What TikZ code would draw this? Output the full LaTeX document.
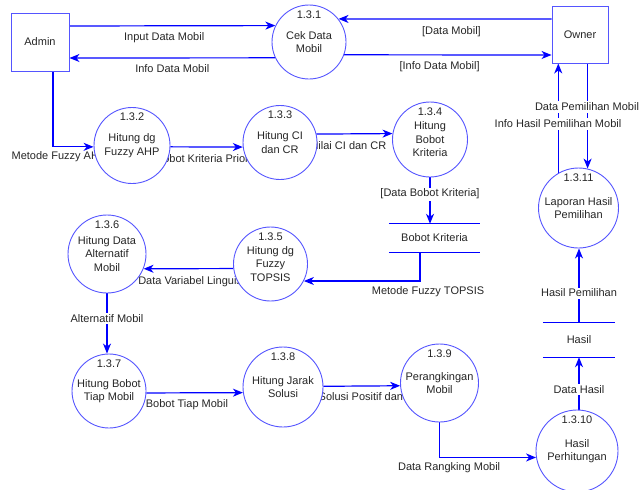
\documentclass[tikz,border=0pt]{standalone}
\usepackage{fontspec}
\setmainfont{Liberation Sans}
\usetikzlibrary{arrows.meta, positioning, backgrounds}
\definecolor{lineblue}{HTML}{0000FF}
\definecolor{circblue}{HTML}{5555FF}
\definecolor{txtgray}{HTML}{262626}

\begin{document}
\begin{tikzpicture}[
    x=1pt, y=-1pt,
    font=\fontsize{11}{13.5}\selectfont,
    text=txtgray,
    proc/.style={circle, draw=circblue, line width=0.9pt, fill=white,
                 minimum size=#1, inner sep=0pt, align=center},
    procnum/.style={anchor=north, yshift=-6pt, inner sep=0pt},
    entity/.style={draw=circblue, line width=0.9pt, fill=white,
                   minimum width=#1, minimum height=57pt, inner sep=0pt},
    datastore/.style={minimum width=#1, inner sep=0pt},
    storeline/.style={draw=lineblue, line width=1pt},
    flow/.style={draw=lineblue, line width=1.2pt,
                 -{Stealth[length=10pt, width=8pt, inset=3pt]}},
    edgelabel/.style={below=5pt, inner sep=1.5pt},
    flowlabel/.style={fill=white, inner sep=1.5pt},
]
    \useasboundingbox (0,0) rectangle (640,490);

    % External entities
    \node[entity=58pt, minimum height=58pt] (admin) at (40,42) {Admin};
    \node[entity=56pt] (owner) at (580,34.5) {Owner};

    % Processes
    \node[proc=74pt, label={[procnum]north:1.3.1}] (p1) at (309,42) {Cek Data\\Mobil};
    \node[proc=76pt, label={[procnum]north:1.3.2}] (p2) at (132,145.5) {Hitung dg\\Fuzzy AHP};
    \node[proc=74pt, label={[procnum]north:1.3.3}] (p3) at (280,142.5) {Hitung CI\\dan CR};
    \node[proc=75pt, label={[procnum]north:1.3.4}] (p4) at (430,139.5) {Hitung\\Bobot\\Kriteria};
    \node[proc=74pt, label={[procnum]north:1.3.5}] (p5) at (270.5,264) {Hitung dg\\Fuzzy\\TOPSIS};
    \node[proc=78pt, label={[procnum]north:1.3.6}] (p6) at (107,254) {Hitung Data\\Alternatif\\Mobil};
    \node[proc=74pt, label={[procnum]north:1.3.7}] (p7) at (109,391) {Hitung Bobot\\Tiap Mobil};
    \node[proc=80pt, label={[procnum]north:1.3.8}] (p8) at (283,387) {Hitung Jarak\\Solusi};
    \node[proc=78pt, label={[procnum]north:1.3.9}] (p9) at (439.5,383) {Perangkingan\\Mobil};
    \node[proc=82pt, label={[procnum]north:1.3.10}] (p10) at (577,451) {Hasil\\Perhitungan};
    \node[proc=80pt, label={[procnum]north:1.3.11}] (p11) at (578.5,208) {Laporan Hasil\\Pemilihan};

    % Data stores
    \node[datastore=91pt, minimum height=28pt] (bobot) at (434.5,238) {Bobot Kriteria};
    \node[datastore=72pt, minimum height=34pt] (hasil) at (579,340) {Hasil};
    \draw[storeline] (bobot.north west) -- (bobot.north east) (bobot.south west) -- (bobot.south east);
    \draw[storeline] (hasil.north west) -- (hasil.north east) (hasil.south west) -- (hasil.south east);

    \begin{scope}[on background layer]
    % Admin and Owner with Cek Data Mobil
    \draw[flow] ([yshift=16pt]admin.east) -- node[edgelabel, pos=0.46] {Input Data Mobil} (p1.154.4);
    \draw[flow] (p1.205.6) -- node[edgelabel] {Info Data Mobil} ([yshift=-16pt]admin.east);
    \draw[flow] ([yshift=15.5pt]owner.west) -- node[edgelabel, pos=0.47] {[Data Mobil]} (p1.38.4);
    \draw[flow] (p1.-20.6) -- node[edgelabel, pos=0.46] {[Info Data Mobil]} ([yshift=-20.5pt]owner.west);

    % Owner with Laporan Hasil Pemilihan
    \draw[flow] (p11.120.8) -- (p11.120.8 |- owner.south);
    \draw[flow] (p11.77.7 |- owner.south) -- (p11.77.7);
    \node[flowlabel] (lblpilih) at (587,107) {Data Pemilihan Mobil};
    \node[flowlabel] (lblinfo) at (558,124) {Info Hasil Pemilihan Mobil};

    % Fuzzy AHP chain
    \draw[flow] ([xshift=13pt]admin.south) |- node[edgelabel, pos=0.5, below=3pt, xshift=6pt] {Metode Fuzzy AHP} (p2.182.3);
    \draw[flow] (p2.-2.3) -- node[edgelabel, pos=0.56] {Bobot Kriteria Prioritas} (p3.187);
    \draw[flow] (p3.13.3) -- node[edgelabel, below=6pt, pos=0.42] {Nilai CI dan CR} (p4.171.6);
    \draw[flow] (p4.south) -- node[flowlabel, pos=0.36] {[Data Bobot Kriteria]} (p4.south |- bobot.north);

    % Fuzzy TOPSIS chain
    \draw[flow] ([xshift=-14.5pt]bobot.south) |- node[edgelabel, pos=0.5, below=3pt, xshift=8pt] {Metode Fuzzy TOPSIS} (p5.-27.4);
    \draw[flow] (p5.187.8) -- node[edgelabel, below=6pt, pos=0.42] {Data Variabel Linguistik} (p6.-22.6);
    \draw[flow] (p6.south) -- node[flowlabel, pos=0.41] {Alternatif Mobil} (p6.south |- p7.north);
    \draw[flow] (p7.-3.1) -- node[edgelabel, pos=0.42] {Bobot Tiap Mobil} (p8.188.6);
    \draw[flow] (p8.1.4) -- node[edgelabel, below=4pt, pos=0.54] {Jarak Solusi Positif dan Negatif} (p9.184.4);
    \draw[flow] (p9.south) |- node[edgelabel, pos=0.55, below=3pt] {Data Rangking Mobil} (p10.189.8);

    % Hasil store
    \draw[flow] (p10.north -| hasil.south) -- node[flowlabel, pos=0.38] {Data Hasil} (hasil.south);
    \draw[flow] (hasil.north) -- node[flowlabel, pos=0.4] {Hasil Pemilihan} (hasil.north |- p11.south);
    \end{scope}
\end{tikzpicture}
\end{document}
